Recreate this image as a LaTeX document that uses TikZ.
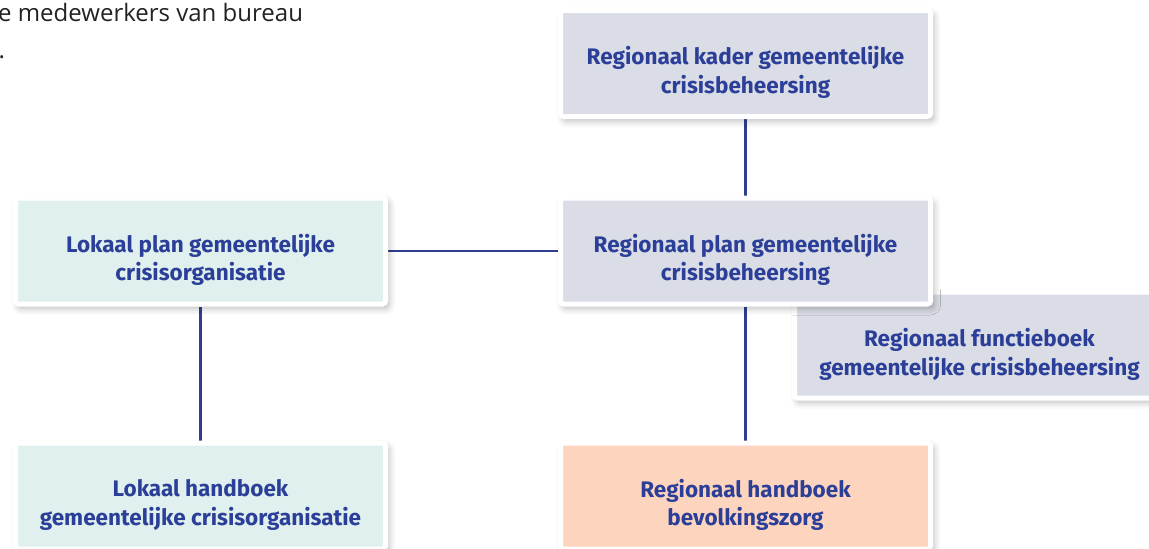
\documentclass[tikz,border=0pt]{standalone}
\usepackage{fontspec}
\setmainfont{Fira Sans}
\newfontfamily\opensans{Open Sans}
\usetikzlibrary{shadows.blur,backgrounds}
\definecolor{linkblue}{HTML}{2E3F8F}
\definecolor{txtblue}{HTML}{2B3F98}
\definecolor{greybox}{HTML}{DADCE6}
\definecolor{tealbox}{HTML}{E0F0EE}
\definecolor{peachbox}{HTML}{FDD5BE}
\definecolor{bodytxt}{HTML}{222222}
\tikzset{
  docbox/.style={draw=white, line width=5pt, rounded corners=3pt,
    minimum width=370pt, minimum height=106pt, inner sep=0pt,
    blur shadow={shadow xshift=3pt, shadow yshift=-4pt, shadow blur radius=7pt, shadow opacity=30}},
  boxtext/.style={align=center, text=txtblue, inner sep=0pt,
    font=\fontsize{22.5}{28.5}\selectfont\bfseries},
  link/.style={draw=linkblue, line width=2.2pt},
  intro/.style={anchor=base west, text=bodytxt, font=\opensans\fontsize{24}{30}\selectfont, inner sep=0pt}
}
\begin{document}
\begin{tikzpicture}[x=1pt,y=-1pt]
\useasboundingbox (0,0) rectangle (1149,549);
\clip (0,0) rectangle (1149,549);
\node[intro] (intro) at (-2,21) {e medewerkers van bureau};
\node[intro] (dot) at (-1.5,58) {.};
\node[docbox, fill=greybox] (fb) at (979.5,345) {};
\node[boxtext] (fbt) at ([yshift=-9.5pt]fb.center) {Regionaal functieboek\\gemeentelijke crisisbeheersing};
\node[docbox, fill=greybox] (kader) at (745.5,63.5) {};
\node[boxtext] (kadert) at ([yshift=-9pt]kader.center) {Regionaal kader gemeentelijke\\crisisbeheersing};
\node[docbox, fill=tealbox] (lp) at (200.5,251) {};
\node[boxtext] (lpt) at ([yshift=-9pt]lp.center) {Lokaal plan gemeentelijke\\crisisorganisatie};
\node[docbox, fill=greybox] (rp) at (745.5,251) {};
\node[boxtext] (rpt) at ([yshift=-9pt]rp.center) {Regionaal plan gemeentelijke\\crisisbeheersing};
\node[docbox, fill=tealbox] (lh) at (200.5,496) {};
\node[boxtext] (lht) at ([yshift=-9pt]lh.center) {Lokaal handboek\\gemeentelijke crisisorganisatie};
\node[docbox, fill=peachbox] (rh) at (745.5,496) {};
\node[boxtext] (rht) at ([yshift=-9pt]rh.center) {Regionaal handboek\\bevolkingszorg};
\begin{scope}[on background layer]
\draw[link] (kader) -- (rp);
\draw[link] (lp) -- (rp);
\draw[link] (lp) -- (lh);
\draw[link] (rp) -- (rh);
\end{scope}
\end{tikzpicture}
\end{document}
